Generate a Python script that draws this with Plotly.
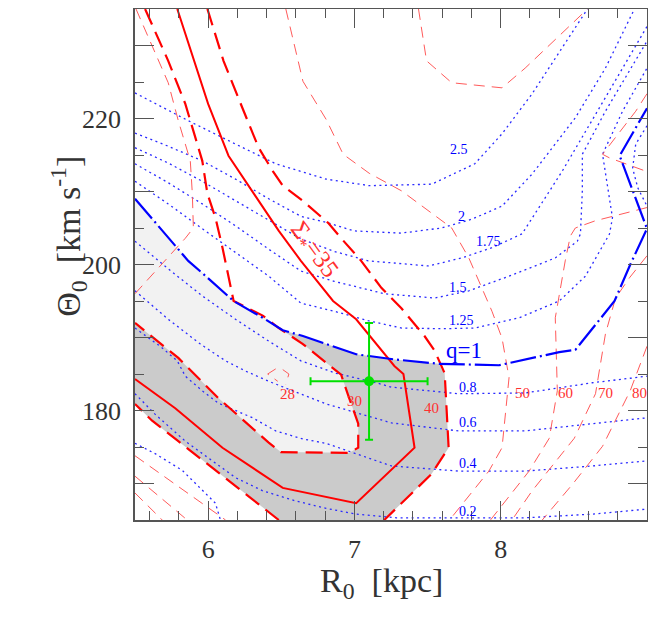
import plotly.graph_objects as go

# ---------------- data (R0 [kpc], Theta0 [km/s]) ----------------
# thick blue q = 1 contour
q1_R = [5.50, 5.864, 5.967, 6.174, 6.373, 6.510, 6.648, 6.875, 7.012, 7.273, 7.576, 7.988, 8.400, 8.510, 8.778, 8.888, 9.00, 8.813, 9.00]
q1_T = [209.0, 200.5, 198.7, 195.0, 192.7, 191.0, 190.2, 188.6, 187.7, 187.0, 186.4, 186.2, 188.0, 188.3, 195.0, 200.1, 204.9, 214.9, 221.4]

# thin dotted q contours
q250_R = [5.5, 5.864, 6.187, 6.462, 6.806, 7.101, 7.528, 7.823, 8.009, 8.215, 8.593]
q250_T = [223.5, 219.7, 216.5, 213.8, 211.7, 210.8, 211.0, 213.8, 217.9, 223.4, 235.0]
q200_R = [5.5, 5.727, 5.960, 6.187, 6.414, 6.634, 6.820, 6.998, 7.321, 7.596, 7.802, 8.009, 8.215, 8.510, 8.716, 8.914]
q200_T = [218.0, 216.2, 214.2, 211.7, 209.0, 206.6, 205.7, 204.6, 204.3, 205.0, 206.2, 208.0, 212.4, 220.1, 226.9, 235.0]
q175_R = [5.5, 5.727, 5.960, 6.187, 6.414, 6.634, 6.861, 7.094, 7.507, 7.734, 7.940, 8.146, 8.421, 8.675, 9.0]
q175_T = [216.0, 213.9, 211.4, 208.7, 206.0, 203.5, 201.8, 200.5, 199.8, 200.9, 202.3, 204.2, 212.8, 221.4, 232.6]
q150_R = [5.5, 5.727, 5.960, 6.187, 6.414, 6.634, 6.861, 7.204, 7.548, 7.782, 8.057, 8.263, 8.373, 8.524, 8.545, 8.558, 8.558, 8.716, 9.0]
q150_T = [213.8, 211.2, 208.3, 205.3, 202.1, 199.1, 197.7, 196.0, 195.4, 196.4, 198.4, 200.1, 200.9, 203.2, 204.2, 210.1, 215.1, 221.0, 230.6]
q125_R = [5.5, 5.727, 5.960, 6.187, 6.414, 6.634, 6.861, 7.094, 7.321, 7.596, 7.823, 8.126, 8.400, 8.579, 8.744, 8.764, 8.696, 8.833, 9.0]
q125_T = [211.4, 208.3, 204.9, 201.6, 198.4, 194.7, 193.6, 192.3, 191.3, 191.2, 191.3, 192.7, 195.0, 198.4, 204.2, 206.4, 215.1, 221.0, 226.9]
q080_R = [5.5, 5.727, 5.960, 6.187, 6.414, 6.634, 6.875, 7.149, 7.253, 7.713, 8.167, 8.627, 9.0]
q080_T = [203.2, 199.4, 195.7, 192.5, 189.5, 186.8, 185.1, 183.8, 183.2, 182.3, 182.4, 183.8, 184.7]
q060_R = [5.5, 5.727, 5.947, 6.119, 6.256, 6.414, 6.579, 6.806, 7.253, 7.713, 8.167, 8.627, 9.0]
q060_T = [196.4, 192.5, 189.1, 186.8, 185.4, 184.0, 182.7, 180.9, 178.3, 177.2, 177.2, 178.2, 179.0]
q040_R = [5.5, 5.672, 5.789, 5.844, 5.960, 6.070, 6.304, 6.462, 6.648, 6.806, 7.253, 7.713, 8.167, 8.627, 9.0]
q040_T = [191.3, 188.8, 186.8, 184.7, 182.7, 181.0, 179.0, 177.2, 176.1, 175.5, 172.4, 171.7, 171.7, 172.4, 173.1]
q020_R = [5.5, 5.637, 5.844, 5.960, 6.187, 6.373, 6.600, 6.806, 7.012, 7.287, 7.713, 8.167, 8.627, 9.0]
q020_T = [182.3, 179.5, 175.8, 174.1, 170.8, 169.0, 167.6, 166.6, 165.8, 165.3, 165.3, 165.3, 165.8, 166.5]
q010_R = [5.5, 5.637, 5.823, 5.960, 6.050, 6.084]
q010_T = [175.5, 174.1, 171.8, 169.0, 167.3, 165.0]
qedge_R = [9.0, 8.923, 8.902, 8.937, 9.0]
qedge_T = [219.0, 216.5, 213.2, 210.5, 208.0]

# thick red Sigma contours
sig30_R = [5.569, 5.727, 5.844, 5.960, 5.995, 6.050, 6.098, 6.174, 6.373, 6.483, 6.648, 6.854, 6.909, 6.964, 7.026, 7.026, 6.964, 6.497, 6.414, 6.070, 5.796, 5.5]
sig30_T = [235.0, 227.9, 222.0, 214.2, 209.7, 206.4, 202.3, 195.0, 193.0, 191.3, 189.1, 185.7, 184.9, 181.7, 178.2, 174.9, 174.2, 174.3, 175.6, 181.7, 187.2, 192.0]
sig35_R = [5.789, 6.0, 6.139, 6.483, 6.634, 6.854, 7.012, 7.273, 7.335, 7.411, 7.012, 6.510, 6.098, 5.775, 5.5]
sig35_T = [235.0, 222.0, 214.9, 204.6, 200.5, 195.0, 192.5, 186.1, 185.0, 174.9, 167.3, 169.4, 174.9, 180.3, 184.3]
sig40a_R = [5.995, 6.105, 6.235, 6.345, 6.442, 6.510, 6.648, 6.820, 6.909, 7.046, 7.184, 7.321, 7.479, 7.548, 7.617, 7.631, 7.644, 7.527, 7.390, 7.204]
sig40a_T = [235.0, 227.9, 221.4, 216.0, 212.8, 210.8, 208.7, 205.7, 203.6, 200.5, 196.8, 194.0, 190.2, 188.2, 185.1, 180.3, 174.9, 171.3, 168.6, 165.0]
sig40b_R = [6.483, 6.256, 6.029, 5.796, 5.617, 5.5]
sig40b_T = [165.0, 168.6, 172.1, 175.8, 178.6, 180.9]

# thin red Sigma contours
s28a_R = [5.507, 5.658, 5.727, 5.796, 5.878, 5.892, 5.899, 5.844, 5.5]
s28a_T = [235.0, 227.9, 224.9, 219.7, 214.2, 209.7, 205.0, 203.6, 196.0]
s28b_R = [6.462, 6.407, 6.476]
s28b_T = [185.7, 185.0, 184.0]
s28c_R = [6.510, 6.552, 6.531]
s28c_T = [185.6, 185.0, 183.6]
s50_R = [6.531, 6.648, 6.806, 6.923, 7.101, 7.321, 7.665, 7.782, 7.940, 8.009, 8.057, 8.029, 8.009, 7.919, 7.65]
s50_T = [235.0, 225.1, 219.9, 215.1, 212.5, 210.1, 205.0, 200.9, 193.6, 189.9, 184.5, 179.0, 174.9, 171.7, 165.0]
s60_R = [9.0, 8.648, 8.510, 8.476, 8.441, 8.373, 8.387, 8.332, 8.194, 7.93]
s60_T = [207.8, 206.0, 205.0, 203.9, 200.5, 192.7, 182.7, 176.2, 171.7, 165.0]
s70_R = [9.0, 8.881, 8.785, 8.716, 8.648, 8.503, 8.215, 8.077]
s70_T = [201.2, 198.2, 195.4, 190.5, 182.3, 176.2, 169.0, 165.0]
s80_R = [9.0, 8.885, 8.696, 8.491, 8.284]
s80_T = [188.8, 182.7, 175.1, 169.9, 165.0]
stop_R = [7.438, 7.493, 7.665, 8.009, 8.167, 8.593]
stop_T = [235.0, 227.9, 224.9, 224.2, 226.9, 235.0]
sedge_R = [9.0, 8.923, 8.696, 8.744, 8.99]
sedge_T = [223.4, 221.0, 215.1, 214.6, 212.8]
sll1_R = [5.5, 6.119]
sll1_T = [173.8, 165.0]
sll2_R = [5.5, 5.857]
sll2_T = [171.0, 165.0]
sll3_R = [5.5, 5.686]
sll3_T = [168.7, 165.0]

# measured point
pt_R, pt_T = [7.1], [184.0]
pt_eR, pt_eT = [0.4], [8.0]

# contour labels
blue_labels = ["2.5", "2", "1.75", "1.5", "1.25", "0.8", "0.6", "0.4", "0.2"]
blue_lab_R = [7.713, 7.734, 7.919, 7.706, 7.734, 7.775, 7.775, 7.775, 7.775]
blue_lab_T = [215.8, 206.6, 203.1, 196.9, 192.3, 183.2, 178.4, 172.7, 166.1]
red_labels = ["28", "30", "40", "50", "60", "70", "80"]
red_lab_R = [6.545, 7.0, 7.53, 8.146, 8.441, 8.715, 8.95]
red_lab_T = [182.3, 181.3, 180.3, 182.4, 182.4, 182.4, 182.4]

x_ticks = [6, 7, 8]
y_ticks = [180, 200, 220]
y_long_ticks = [170, 190, 210, 230]

# ---------------- figure ----------------
FONT = "Liberation Serif"
fig = go.Figure()


def add_line(xs, ys, color, width, dash, fill=None, fillcolor=None):
    fig.add_trace(go.Scatter(
        x=xs, y=ys, mode="lines",
        line=dict(color=color, width=width, dash=dash),
        fill=fill, fillcolor=fillcolor,
        hoverinfo="skip", showlegend=False))


# shaded regions (below q=1 line)
dark_R = q1_R[:11] + sig40a_R[14:] + sig40b_R
dark_T = q1_T[:11] + sig40a_T[14:] + sig40b_T
add_line(dark_R, dark_T, "rgba(0,0,0,0)", 0, "solid", "toself", "#cbcbcb")
light_R = q1_R[:4] + sig30_R[8:]
light_T = q1_T[:4] + sig30_T[8:]
add_line(light_R, light_T, "rgba(0,0,0,0)", 0, "solid", "toself", "#f2f2f2")

# dotted q contours
BLUE_DOT = "#2a2aff"
for xs, ys in [(q250_R, q250_T), (q200_R, q200_T), (q175_R, q175_T), (q150_R, q150_T),
               (q125_R, q125_T), (q080_R, q080_T), (q060_R, q060_T), (q040_R, q040_T),
               (q020_R, q020_T), (q010_R, q010_T), (qedge_R, qedge_T)]:
    add_line(xs, ys, BLUE_DOT, 1.3, "2px,3.5px")

# thin red contours
RED_THIN = "#ff5a5a"
for xs, ys in [(s28a_R, s28a_T), (s28b_R, s28b_T), (s28c_R, s28c_T), (s50_R, s50_T),
               (s60_R, s60_T), (s70_R, s70_T), (s80_R, s80_T), (stop_R, stop_T),
               (sedge_R, sedge_T), (sll1_R, sll1_T), (sll2_R, sll2_T), (sll3_R, sll3_T)]:
    add_line(xs, ys, RED_THIN, 1, "11px,7px")

# thick red contours
add_line(sig30_R, sig30_T, "#ff0000", 2.2, "17px,8px")
add_line(sig40a_R, sig40a_T, "#ff0000", 2.2, "17px,8px")
add_line(sig40b_R, sig40b_T, "#ff0000", 2.2, "17px,8px")
add_line(sig35_R, sig35_T, "#ff0000", 2.0, "solid")

# thick blue q=1
add_line(q1_R, q1_T, "#0000ff", 2.2, "26px,4px,2px,4px")

# measured point
fig.add_trace(go.Scatter(
    x=pt_R, y=pt_T, mode="markers",
    marker=dict(color="#00e000", size=10),
    error_x=dict(type="data", array=pt_eR, color="#00e000", thickness=2, width=4),
    error_y=dict(type="data", array=pt_eT, color="#00e000", thickness=2, width=4),
    hoverinfo="skip", showlegend=False))

# invisible trace on the overlay axis (carries the unlabeled long ticks)
fig.add_trace(go.Scatter(x=[pt_R[0]], y=[pt_T[0]], yaxis="y2", mode="markers",
                         marker=dict(opacity=0), hoverinfo="skip", showlegend=False))

annotations = []
for t, x, y in zip(blue_labels, blue_lab_R, blue_lab_T):
    annotations.append(dict(x=x, y=y, text=t, showarrow=False, xref="x", yref="y",
                            font=dict(family=FONT, size=14, color="#0000ff")))
for t, x, y in zip(red_labels, red_lab_R, red_lab_T):
    annotations.append(dict(x=x, y=y, text=t, showarrow=False, xref="x", yref="y",
                            font=dict(family=FONT, size=15, color="#ff3030")))
annotations.append(dict(x=7.747, y=188.2, text="q=1", showarrow=False, xref="x", yref="y",
                        font=dict(family=FONT, size=23, color="#0000ff")))
annotations.append(dict(x=6.72, y=201.9, text="Σ<sub>*</sub>=35", showarrow=False, xref="x", yref="y",
                        textangle=54, font=dict(family=FONT, size=25, color="#ff3030")))

# axis titles
TITLEC = "#333333"
annotations.append(dict(x=0.482, y=-0.123, xref="paper", yref="paper", showarrow=False,
                        xanchor="center", yanchor="middle",
                        text="R<sub>0</sub>\u2002[kpc]",
                        font=dict(family=FONT, size=34, color=TITLEC)))
annotations.append(dict(x=-0.13, y=0.555, xref="paper", yref="paper", showarrow=False,
                        xanchor="center", yanchor="middle", textangle=-90,
                        text="Θ<sub>0</sub>\u2002[km s<sup>-1</sup>]",
                        font=dict(family=FONT, size=34, color=TITLEC)))

TICKC = "#555555"
axis_common = dict(
    showline=True, linecolor=TICKC, linewidth=1.5, mirror="ticks",
    ticks="inside", tickcolor=TICKC, tickwidth=1.3, ticklen=19,
    showgrid=False, zeroline=False, automargin=False,
    tickfont=dict(family=FONT, size=26, color="#333333"),
)

# the page body has an 8px margin: the figure is sized so that the
# plotting area lands at about x 135..647, y 9..520 in the 656x622 window
fig.update_layout(
    width=648, height=615,
    margin=dict(l=127, r=9, t=1, b=103),
    paper_bgcolor="white", plot_bgcolor="white",
    font=dict(family=FONT),
    annotations=annotations,
    xaxis=dict(range=[5.5, 9.0], tickvals=x_ticks,
               minor=dict(dtick=0.2, ticklen=9, ticks="inside", tickcolor=TICKC, tickwidth=1.3),
               ticklabelstandoff=5,
               **axis_common),
    yaxis=dict(range=[165, 235], tickvals=y_ticks,
               minor=dict(dtick=5, ticklen=9, ticks="inside", tickcolor=TICKC, tickwidth=1.3),
               ticklabelstandoff=7,
               **axis_common),
    yaxis2=dict(range=[165, 235], overlaying="y", side="left", tickvals=y_long_ticks,
                showticklabels=False, ticks="inside", ticklen=19, tickcolor=TICKC, tickwidth=1.3,
                showline=False, mirror="ticks", showgrid=False, zeroline=False, automargin=False),
)

fig.write_html("out.html", config={"displayModeBar": False})
